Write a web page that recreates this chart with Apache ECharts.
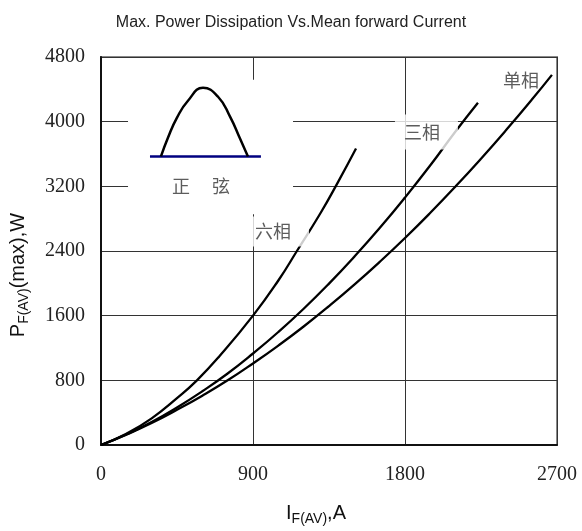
<!DOCTYPE html>
<html>
<head>
<meta charset="utf-8">
<script src="https://cdn.jsdelivr.net/npm/echarts@6/dist/echarts.min.js"></script>
<style>
html,body{margin:0;padding:0;background:#fff;}
#chart{width:582px;height:531px;}
</style>
</head>
<body>
<div id="chart"></div>
<script>
// axis ticks
var xTicks = [0, 900, 1800, 2700];
var yTicks = [0, 800, 1600, 2400, 3200, 4000, 4800];

// 六相 (six phase)
var sixX = [0, 150, 300, 450, 568, 700, 900, 1050, 1160, 1300, 1400, 1510];
var sixY = [0, 140, 330, 580, 800, 1095, 1600, 2035, 2400, 2870, 3240, 3668];
// 三相 (three phase)
var threeX = [0, 150, 300, 450, 600, 750, 900, 1050, 1200, 1350, 1500, 1650, 1800, 1950, 2100, 2232];
var threeY = [0, 130, 285, 465, 665, 885, 1132, 1398, 1686, 1997, 2330, 2684, 3061, 3460, 3882, 4235];
// 单相 (single phase)
var singleX = [0, 150, 300, 450, 600, 750, 900, 1050, 1200, 1350, 1500, 1650, 1800, 1950, 2100, 2250, 2400, 2550, 2670];
var singleY = [0, 128, 272, 435, 610, 800, 1009, 1230, 1466, 1718, 1984, 2265, 2561, 2873, 3200, 3542, 3899, 4270, 4579];

// little half-sine sketch in the corner (正弦)
var sineX = [355, 397, 450, 515, 604, 693, 764, 823, 870];
var sineY = [3570, 3804, 4050, 4259, 4419, 4308, 4062, 3791, 3570];
var baseX = [290, 947];
var baseY = [3570, 3570];

function pairs(xs, ys) {
	var out = [];
	for (var i = 0; i < xs.length; i++) out.push([xs[i], ys[i]]);
	return out;
}

var cjk = "'Noto Sans CJK SC', sans-serif";
var serif = "'Liberation Serif', 'DejaVu Serif', serif";
var sans = "'Liberation Sans', Arial, sans-serif";

function curve(name, xs, ys) {
	return {
		name: name,
		type: 'line',
		smooth: true,
		showSymbol: false,
		silent: true,
		data: pairs(xs, ys),
		lineStyle: { color: '#000', width: 2.3 },
		z: 3
	};
}

// label boxes: white background hides grid lines and curve pieces behind
function note(text, x, y, pad, bg) {
	return {
		value: [x, y],
		label: {
			show: true,
			position: 'inside',
			formatter: text,
			color: '#333',
			fontFamily: cjk,
			fontSize: 18,
			backgroundColor: bg ? '#fff' : 'transparent',
			padding: pad
		}
	};
}

var nameRich = {
	m: { fontFamily: sans, fontSize: 20, color: '#111', lineHeight: 26 },
	s: { fontFamily: sans, fontSize: 14, color: '#111', lineHeight: 16, verticalAlign: 'bottom' }
};

var myChart = echarts.init(document.getElementById('chart'));
var option = {
	animation: false,
	backgroundColor: '#fff',
	title: {
		text: 'Max. Power Dissipation Vs.Mean forward Current',
		left: 'center',
		top: 10,
		textStyle: {
			fontFamily: "'Liberation Sans Narrow', 'Arial Narrow', " + sans,
			fontSize: 16,
			fontWeight: 'normal',
			color: '#222'
		}
	},
	grid: {
		left: 101, right: 25, top: 57, bottom: 84,
		show: true,
		borderColor: '#888',
		borderWidth: 2,
		backgroundColor: '#fff'
	},
	xAxis: {
		type: 'value',
		min: xTicks[0], max: xTicks[xTicks.length - 1], interval: 900,
		name: '{m|I}{s|F(AV)}{m|,A}',
		nameLocation: 'middle',
		nameGap: 55,
		nameTextStyle: { padding: [0, 26, 0, 0], rich: nameRich },
		axisLine: { lineStyle: { color: '#111', width: 2 } },
		axisTick: { show: false },
		axisLabel: {
			margin: 20,
			fontFamily: serif, fontSize: 20, color: '#222',
			formatter: function (v) { return String(v); }
		},
		splitLine: { show: true, lineStyle: { color: '#333', width: 1 } }
	},
	yAxis: {
		type: 'value',
		min: yTicks[0], max: yTicks[yTicks.length - 1], interval: 800,
		name: '{m|P}{s|F(AV)}{m|(max),W}',
		nameLocation: 'middle',
		nameGap: 70,
		nameTextStyle: { padding: [0, 48, 0, 0], rich: nameRich },
		axisLine: { show: true, lineStyle: { color: '#111', width: 2 } },
		axisTick: { show: false },
		axisLabel: {
			margin: 16,
			fontFamily: serif, fontSize: 20, color: '#222',
			formatter: function (v) { return String(v); }
		},
		splitLine: { show: true, lineStyle: { color: '#333', width: 1 } }
	},
	series: [
		{
			name: 'inset',
			type: 'line',
			smooth: true,
			showSymbol: false,
			silent: true,
			data: pairs(sineX, sineY),
			lineStyle: { color: '#000', width: 2.5 },
			z: 4,
			markArea: {
				silent: true,
				itemStyle: { color: '#fff' },
				data: [[{ coord: [160, 4518] }, { coord: [1137, 2856] }]]
			}
		},
		{
			name: 'base',
			type: 'line',
			showSymbol: false,
			silent: true,
			data: pairs(baseX, baseY),
			lineStyle: { color: '#000080', width: 2.5 },
			z: 3
		},
		curve('六相', sixX, sixY),
		curve('三相', threeX, threeY),
		curve('单相', singleX, singleY),
		{
			name: 'notes',
			type: 'scatter',
			symbolSize: 0,
			silent: true,
			z: 10,
			data: [
				note('六相', 1051, 2640, [9, 18, 3, 7], true),
				note('三相', 1927, 3871, [9, 18, 8, 9], true),
				note('单相', 2487, 4518, 0, false),
				note('正　 弦', 592, 3200, 0, true)
			]
		}
	]
};
myChart.setOption(option);
</script>
</body>
</html>
